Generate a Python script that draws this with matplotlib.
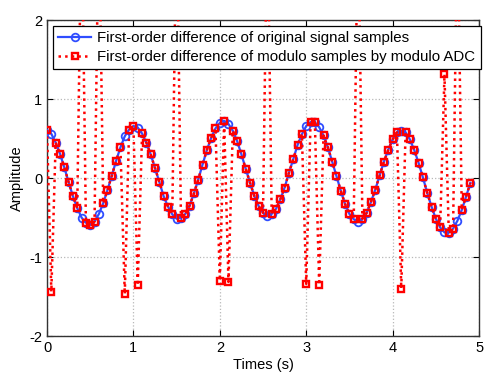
import numpy as np
import matplotlib
matplotlib.use('Agg')
import matplotlib.pyplot as plt

plt.rcParams['font.family'] = ['Liberation Sans', 'DejaVu Sans']
plt.rcParams['axes.unicode_minus'] = False

# sampling period of the difference sequences (s)
sample_period = 0.05

# first-order difference of the original signal samples
diff_original = [
    0.61, 0.56, 0.45, 0.31, 0.135, -0.05, -0.23, -0.38, -0.50, -0.565,
    -0.59, -0.55, -0.455, -0.32, -0.15, 0.03, 0.22, 0.39, 0.53, 0.615,
    0.66, 0.64, 0.565, 0.45, 0.30, 0.127, -0.05, -0.23, -0.36, -0.46,
    -0.515, -0.50, -0.455, -0.35, -0.195, -0.02, 0.17, 0.355, 0.51, 0.63,
    0.70, 0.725, 0.685, 0.60, 0.47, 0.30, 0.118, -0.06, -0.23, -0.355,
    -0.44, -0.48, -0.455, -0.39, -0.27, -0.12, 0.067, 0.24, 0.42, 0.555,
    0.66, 0.71, 0.705, 0.645, 0.54, 0.39, 0.21, 0.025, -0.16, -0.33,
    -0.455, -0.52, -0.557, -0.515, -0.44, -0.30, -0.145, 0.035, 0.21, 0.36,
    0.49, 0.58, 0.60, 0.58, 0.49, 0.355, 0.195, 0.01, -0.185, -0.36,
    -0.515, -0.625, -0.687, -0.69, -0.64, -0.54, -0.405, -0.235, -0.06,
]

# samples where the modulo-ADC difference departs from the original one
modulo_jumps = {
    1: -1.44, 8: 3.50, 12: 3.545, 18: -1.47, 21: -1.36, 30: 3.485,
    40: -1.30, 42: -1.315, 51: 3.52, 60: -1.34, 63: -1.355, 72: 3.443,
    82: -1.40, 92: 1.313, 95: 3.46,
}

diff_modulo = list(diff_original)
for idx, val in modulo_jumps.items():
    diff_modulo[idx] = val

t = np.arange(len(diff_original)) * sample_period

fig = plt.figure(figsize=(4.98, 3.88), dpi=100)
ax = fig.add_axes([0.0944, 0.134, 0.8675, 0.814])

ax.plot(t, diff_original, '-o', color='#2f4dff', linewidth=1.6,
        markersize=5.5, markerfacecolor='none', markeredgewidth=1.3,
        label='First-order difference of original signal samples', zorder=3)
ax.plot(t, diff_modulo, ':s', color='#ff0000', linewidth=1.8,
        markersize=5, markerfacecolor='none', markeredgewidth=1.7,
        label='First-order difference of modulo samples by modulo ADC', zorder=4)

ax.set_xlim(0, 5)
ax.set_ylim(-2, 2)
ax.set_xticks([0, 1, 2, 3, 4, 5])
ax.set_yticks([-2, -1, 0, 1, 2])
ax.grid(True, linestyle=':', color='#b8b8b8', linewidth=0.9)
ax.tick_params(direction='in', top=True, right=True, labelsize=10.5, length=4)
for sp in ax.spines.values():
    sp.set_linewidth(1.0)
    sp.set_color('#333333')

ax.set_xlabel('Times (s)', fontsize=10.5, labelpad=2)
ax.set_ylabel('Amplitude', fontsize=10.5, labelpad=4)

leg = ax.legend(loc='upper left', fontsize=10.8, fancybox=False, framealpha=1,
                edgecolor='black', handlelength=2.2, borderaxespad=0.4,
                borderpad=0.35, labelspacing=0.3, handletextpad=0.4)
leg.get_frame().set_linewidth(0.9)

plt.savefig('out.png', dpi=100)
